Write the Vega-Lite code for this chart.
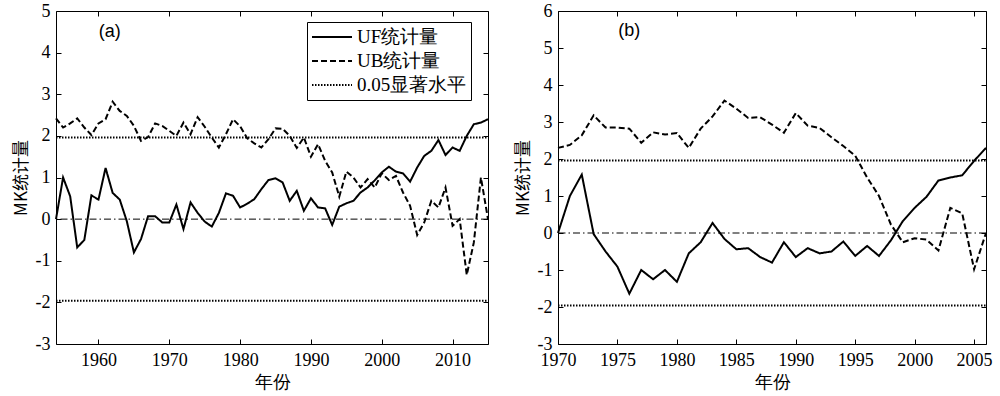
{
  "$schema": "https://vega.github.io/schema/vega-lite/v6.json",
  "padding": {"left": 11, "top": 1, "right": 5, "bottom": 5},
  "background": "white",
  "config": {
    "font": "Liberation Serif",
    "view": {"stroke": "black", "strokeWidth": 1},
    "axis": {"grid": false, "domain": false, "tickColor": "black", "tickSize": -5, "labelFont": "Liberation Serif", "labelFontSize": 18, "labelColor": "black", "labelFlush": false, "titleFont": "Liberation Serif", "titleFontSize": 18, "titleColor": "black", "titleFontWeight": "normal"},
    "legend": {"orient": "none", "title": null, "strokeColor": "black", "fillColor": "white", "padding": 4, "labelFont": "Liberation Serif", "labelFontSize": 19, "labelColor": "black", "symbolSize": 1600, "symbolStrokeColor": "black", "clipHeight": 22, "rowPadding": 2, "labelLimit": 300, "labelOffset": 4}
  },
  "datasets": {
    "a": [
      {"year":1954,"v":0,"s":"UF统计量","g":"UF"},{"year":1955,"v":1.0,"s":"UF统计量","g":"UF"},{"year":1956,"v":0.55,"s":"UF统计量","g":"UF"},{"year":1957,"v":-0.68,"s":"UF统计量","g":"UF"},{"year":1958,"v":-0.5,"s":"UF统计量","g":"UF"},{"year":1959,"v":0.57,"s":"UF统计量","g":"UF"},{"year":1960,"v":0.47,"s":"UF统计量","g":"UF"},{"year":1961,"v":1.23,"s":"UF统计量","g":"UF"},{"year":1962,"v":0.63,"s":"UF统计量","g":"UF"},{"year":1963,"v":0.47,"s":"UF统计量","g":"UF"},{"year":1964,"v":-0.05,"s":"UF统计量","g":"UF"},{"year":1965,"v":-0.8,"s":"UF统计量","g":"UF"},{"year":1966,"v":-0.48,"s":"UF统计量","g":"UF"},{"year":1967,"v":0.07,"s":"UF统计量","g":"UF"},{"year":1968,"v":0.07,"s":"UF统计量","g":"UF"},{"year":1969,"v":-0.08,"s":"UF统计量","g":"UF"},{"year":1970,"v":-0.08,"s":"UF统计量","g":"UF"},{"year":1971,"v":0.35,"s":"UF统计量","g":"UF"},{"year":1972,"v":-0.24,"s":"UF统计量","g":"UF"},{"year":1973,"v":0.4,"s":"UF统计量","g":"UF"},{"year":1974,"v":0.15,"s":"UF统计量","g":"UF"},{"year":1975,"v":-0.06,"s":"UF统计量","g":"UF"},{"year":1976,"v":-0.18,"s":"UF统计量","g":"UF"},{"year":1977,"v":0.15,"s":"UF统计量","g":"UF"},{"year":1978,"v":0.62,"s":"UF统计量","g":"UF"},{"year":1979,"v":0.56,"s":"UF统计量","g":"UF"},{"year":1980,"v":0.28,"s":"UF统计量","g":"UF"},{"year":1981,"v":0.37,"s":"UF统计量","g":"UF"},{"year":1982,"v":0.48,"s":"UF统计量","g":"UF"},{"year":1983,"v":0.72,"s":"UF统计量","g":"UF"},{"year":1984,"v":0.94,"s":"UF统计量","g":"UF"},{"year":1985,"v":0.98,"s":"UF统计量","g":"UF"},{"year":1986,"v":0.88,"s":"UF统计量","g":"UF"},{"year":1987,"v":0.44,"s":"UF统计量","g":"UF"},{"year":1988,"v":0.68,"s":"UF统计量","g":"UF"},{"year":1989,"v":0.2,"s":"UF统计量","g":"UF"},{"year":1990,"v":0.5,"s":"UF统计量","g":"UF"},{"year":1991,"v":0.28,"s":"UF统计量","g":"UF"},{"year":1992,"v":0.26,"s":"UF统计量","g":"UF"},{"year":1993,"v":-0.14,"s":"UF统计量","g":"UF"},{"year":1994,"v":0.3,"s":"UF统计量","g":"UF"},{"year":1995,"v":0.38,"s":"UF统计量","g":"UF"},{"year":1996,"v":0.44,"s":"UF统计量","g":"UF"},{"year":1997,"v":0.64,"s":"UF统计量","g":"UF"},{"year":1998,"v":0.76,"s":"UF统计量","g":"UF"},{"year":1999,"v":0.93,"s":"UF统计量","g":"UF"},{"year":2000,"v":1.12,"s":"UF统计量","g":"UF"},{"year":2001,"v":1.26,"s":"UF统计量","g":"UF"},{"year":2002,"v":1.14,"s":"UF统计量","g":"UF"},{"year":2003,"v":1.1,"s":"UF统计量","g":"UF"},{"year":2004,"v":0.9,"s":"UF统计量","g":"UF"},{"year":2005,"v":1.24,"s":"UF统计量","g":"UF"},{"year":2006,"v":1.52,"s":"UF统计量","g":"UF"},{"year":2007,"v":1.64,"s":"UF统计量","g":"UF"},{"year":2008,"v":1.9,"s":"UF统计量","g":"UF"},{"year":2009,"v":1.54,"s":"UF统计量","g":"UF"},{"year":2010,"v":1.72,"s":"UF统计量","g":"UF"},{"year":2011,"v":1.64,"s":"UF统计量","g":"UF"},{"year":2012,"v":2.0,"s":"UF统计量","g":"UF"},{"year":2013,"v":2.28,"s":"UF统计量","g":"UF"},{"year":2014,"v":2.32,"s":"UF统计量","g":"UF"},{"year":2015,"v":2.4,"s":"UF统计量","g":"UF"},
      {"year":1954,"v":2.42,"s":"UB统计量","g":"UB"},{"year":1955,"v":2.2,"s":"UB统计量","g":"UB"},{"year":1956,"v":2.3,"s":"UB统计量","g":"UB"},{"year":1957,"v":2.42,"s":"UB统计量","g":"UB"},{"year":1958,"v":2.2,"s":"UB统计量","g":"UB"},{"year":1959,"v":2.02,"s":"UB统计量","g":"UB"},{"year":1960,"v":2.3,"s":"UB统计量","g":"UB"},{"year":1961,"v":2.4,"s":"UB统计量","g":"UB"},{"year":1962,"v":2.82,"s":"UB统计量","g":"UB"},{"year":1963,"v":2.6,"s":"UB统计量","g":"UB"},{"year":1964,"v":2.48,"s":"UB统计量","g":"UB"},{"year":1965,"v":2.24,"s":"UB统计量","g":"UB"},{"year":1966,"v":1.88,"s":"UB统计量","g":"UB"},{"year":1967,"v":1.97,"s":"UB统计量","g":"UB"},{"year":1968,"v":2.3,"s":"UB统计量","g":"UB"},{"year":1969,"v":2.24,"s":"UB统计量","g":"UB"},{"year":1970,"v":2.12,"s":"UB统计量","g":"UB"},{"year":1971,"v":2.0,"s":"UB统计量","g":"UB"},{"year":1972,"v":2.32,"s":"UB统计量","g":"UB"},{"year":1973,"v":2.04,"s":"UB统计量","g":"UB"},{"year":1974,"v":2.45,"s":"UB统计量","g":"UB"},{"year":1975,"v":2.22,"s":"UB统计量","g":"UB"},{"year":1976,"v":1.96,"s":"UB统计量","g":"UB"},{"year":1977,"v":1.72,"s":"UB统计量","g":"UB"},{"year":1978,"v":2.04,"s":"UB统计量","g":"UB"},{"year":1979,"v":2.4,"s":"UB统计量","g":"UB"},{"year":1980,"v":2.23,"s":"UB统计量","g":"UB"},{"year":1981,"v":1.94,"s":"UB统计量","g":"UB"},{"year":1982,"v":1.82,"s":"UB统计量","g":"UB"},{"year":1983,"v":1.72,"s":"UB统计量","g":"UB"},{"year":1984,"v":1.92,"s":"UB统计量","g":"UB"},{"year":1985,"v":2.18,"s":"UB统计量","g":"UB"},{"year":1986,"v":2.17,"s":"UB统计量","g":"UB"},{"year":1987,"v":2.0,"s":"UB统计量","g":"UB"},{"year":1988,"v":1.71,"s":"UB统计量","g":"UB"},{"year":1989,"v":1.96,"s":"UB统计量","g":"UB"},{"year":1990,"v":1.5,"s":"UB统计量","g":"UB"},{"year":1991,"v":1.8,"s":"UB统计量","g":"UB"},{"year":1992,"v":1.4,"s":"UB统计量","g":"UB"},{"year":1993,"v":1.12,"s":"UB统计量","g":"UB"},{"year":1994,"v":0.54,"s":"UB统计量","g":"UB"},{"year":1995,"v":1.14,"s":"UB统计量","g":"UB"},{"year":1996,"v":1.0,"s":"UB统计量","g":"UB"},{"year":1997,"v":0.76,"s":"UB统计量","g":"UB"},{"year":1998,"v":0.96,"s":"UB统计量","g":"UB"},{"year":1999,"v":0.76,"s":"UB统计量","g":"UB"},{"year":2000,"v":1.1,"s":"UB统计量","g":"UB"},{"year":2001,"v":0.94,"s":"UB统计量","g":"UB"},{"year":2002,"v":1.04,"s":"UB统计量","g":"UB"},{"year":2003,"v":0.64,"s":"UB统计量","g":"UB"},{"year":2004,"v":0.32,"s":"UB统计量","g":"UB"},{"year":2005,"v":-0.38,"s":"UB统计量","g":"UB"},{"year":2006,"v":-0.08,"s":"UB统计量","g":"UB"},{"year":2007,"v":0.44,"s":"UB统计量","g":"UB"},{"year":2008,"v":0.28,"s":"UB统计量","g":"UB"},{"year":2009,"v":0.76,"s":"UB统计量","g":"UB"},{"year":2010,"v":-0.16,"s":"UB统计量","g":"UB"},{"year":2011,"v":0.0,"s":"UB统计量","g":"UB"},{"year":2012,"v":-1.34,"s":"UB统计量","g":"UB"},{"year":2013,"v":-0.56,"s":"UB统计量","g":"UB"},{"year":2014,"v":1.0,"s":"UB统计量","g":"UB"},{"year":2015,"v":0.0,"s":"UB统计量","g":"UB"},
      {"year":1954,"v":1.96,"s":"0.05显著水平","g":"p"},{"year":2015,"v":1.96,"s":"0.05显著水平","g":"p"},
      {"year":1954,"v":-1.96,"s":"0.05显著水平","g":"n"},{"year":2015,"v":-1.96,"s":"0.05显著水平","g":"n"}
    ],
    "b": [
      {"year":1970,"v":0,"s":"UF统计量","g":"UF"},{"year":1971,"v":1.0,"s":"UF统计量","g":"UF"},{"year":1972,"v":1.58,"s":"UF统计量","g":"UF"},{"year":1973,"v":-0.03,"s":"UF统计量","g":"UF"},{"year":1974,"v":-0.5,"s":"UF统计量","g":"UF"},{"year":1975,"v":-0.91,"s":"UF统计量","g":"UF"},{"year":1976,"v":-1.64,"s":"UF统计量","g":"UF"},{"year":1977,"v":-1.0,"s":"UF统计量","g":"UF"},{"year":1978,"v":-1.25,"s":"UF统计量","g":"UF"},{"year":1979,"v":-1.0,"s":"UF统计量","g":"UF"},{"year":1980,"v":-1.32,"s":"UF统计量","g":"UF"},{"year":1981,"v":-0.55,"s":"UF统计量","g":"UF"},{"year":1982,"v":-0.25,"s":"UF统计量","g":"UF"},{"year":1983,"v":0.27,"s":"UF统计量","g":"UF"},{"year":1984,"v":-0.16,"s":"UF统计量","g":"UF"},{"year":1985,"v":-0.44,"s":"UF统计量","g":"UF"},{"year":1986,"v":-0.41,"s":"UF统计量","g":"UF"},{"year":1987,"v":-0.65,"s":"UF统计量","g":"UF"},{"year":1988,"v":-0.8,"s":"UF统计量","g":"UF"},{"year":1989,"v":-0.25,"s":"UF统计量","g":"UF"},{"year":1990,"v":-0.65,"s":"UF统计量","g":"UF"},{"year":1991,"v":-0.41,"s":"UF统计量","g":"UF"},{"year":1992,"v":-0.55,"s":"UF统计量","g":"UF"},{"year":1993,"v":-0.5,"s":"UF统计量","g":"UF"},{"year":1994,"v":-0.23,"s":"UF统计量","g":"UF"},{"year":1995,"v":-0.62,"s":"UF统计量","g":"UF"},{"year":1996,"v":-0.35,"s":"UF统计量","g":"UF"},{"year":1997,"v":-0.62,"s":"UF统计量","g":"UF"},{"year":1998,"v":-0.2,"s":"UF统计量","g":"UF"},{"year":1999,"v":0.32,"s":"UF统计量","g":"UF"},{"year":2000,"v":0.68,"s":"UF统计量","g":"UF"},{"year":2001,"v":0.98,"s":"UF统计量","g":"UF"},{"year":2002,"v":1.42,"s":"UF统计量","g":"UF"},{"year":2003,"v":1.5,"s":"UF统计量","g":"UF"},{"year":2004,"v":1.56,"s":"UF统计量","g":"UF"},{"year":2005,"v":1.95,"s":"UF统计量","g":"UF"},{"year":2006,"v":2.3,"s":"UF统计量","g":"UF"},
      {"year":1970,"v":2.3,"s":"UB统计量","g":"UB"},{"year":1971,"v":2.38,"s":"UB统计量","g":"UB"},{"year":1972,"v":2.64,"s":"UB统计量","g":"UB"},{"year":1973,"v":3.18,"s":"UB统计量","g":"UB"},{"year":1974,"v":2.85,"s":"UB统计量","g":"UB"},{"year":1975,"v":2.85,"s":"UB统计量","g":"UB"},{"year":1976,"v":2.82,"s":"UB统计量","g":"UB"},{"year":1977,"v":2.44,"s":"UB统计量","g":"UB"},{"year":1978,"v":2.72,"s":"UB统计量","g":"UB"},{"year":1979,"v":2.66,"s":"UB统计量","g":"UB"},{"year":1980,"v":2.7,"s":"UB统计量","g":"UB"},{"year":1981,"v":2.3,"s":"UB统计量","g":"UB"},{"year":1982,"v":2.82,"s":"UB统计量","g":"UB"},{"year":1983,"v":3.15,"s":"UB统计量","g":"UB"},{"year":1984,"v":3.58,"s":"UB统计量","g":"UB"},{"year":1985,"v":3.36,"s":"UB统计量","g":"UB"},{"year":1986,"v":3.11,"s":"UB统计量","g":"UB"},{"year":1987,"v":3.13,"s":"UB统计量","g":"UB"},{"year":1988,"v":2.93,"s":"UB统计量","g":"UB"},{"year":1989,"v":2.71,"s":"UB统计量","g":"UB"},{"year":1990,"v":3.24,"s":"UB统计量","g":"UB"},{"year":1991,"v":2.9,"s":"UB统计量","g":"UB"},{"year":1992,"v":2.84,"s":"UB统计量","g":"UB"},{"year":1993,"v":2.59,"s":"UB统计量","g":"UB"},{"year":1994,"v":2.35,"s":"UB统计量","g":"UB"},{"year":1995,"v":2.09,"s":"UB统计量","g":"UB"},{"year":1996,"v":1.5,"s":"UB统计量","g":"UB"},{"year":1997,"v":1.0,"s":"UB统计量","g":"UB"},{"year":1998,"v":0.23,"s":"UB统计量","g":"UB"},{"year":1999,"v":-0.25,"s":"UB统计量","g":"UB"},{"year":2000,"v":-0.14,"s":"UB统计量","g":"UB"},{"year":2001,"v":-0.18,"s":"UB统计量","g":"UB"},{"year":2002,"v":-0.47,"s":"UB统计量","g":"UB"},{"year":2003,"v":0.68,"s":"UB统计量","g":"UB"},{"year":2004,"v":0.53,"s":"UB统计量","g":"UB"},{"year":2005,"v":-0.98,"s":"UB统计量","g":"UB"},{"year":2006,"v":0,"s":"UB统计量","g":"UB"},
      {"year":1970,"v":1.96,"s":"0.05显著水平","g":"p"},{"year":2006,"v":1.96,"s":"0.05显著水平","g":"p"},
      {"year":1970,"v":-1.96,"s":"0.05显著水平","g":"n"},{"year":2006,"v":-1.96,"s":"0.05显著水平","g":"n"}
    ]
  },
  "spacing": 20,
  "hconcat": [
    {
      "width": 432,
      "height": 333,
      "layer": [
        {
          "data": {"name": "a"},
          "mark": {"type": "line", "color": "black"},
          "encoding": {
            "x": {"field": "year", "type": "quantitative", "title": "年份", "scale": {"domain": [1954, 2015], "nice": false, "zero": false}, "axis": {"orient": "bottom", "values": [1960, 1970, 1980, 1990, 2000, 2010], "format": "d", "labelPadding": 12, "titlePadding": 4}},
            "y": {"field": "v", "type": "quantitative", "title": "MK统计量", "scale": {"domain": [-3, 5], "nice": false, "zero": false}, "axis": {"orient": "left", "values": [-3, -2, -1, 0, 1, 2, 3, 4, 5], "labelExpr": "datum.value + ''", "labelPadding": 11, "titlePadding": 5, "titleFont": "Noto Sans CJK SC", "titleFontSize": 17}},
            "strokeDash": {"field": "s", "type": "nominal", "scale": {"domain": ["UF统计量", "UB统计量", "0.05显著水平"], "range": [[1, 0], [6, 3], [1.5, 1.5]]}, "legend": {"legendX": 251, "legendY": 11}},
            "strokeWidth": {"field": "s", "type": "ordinal", "scale": {"domain": ["UF统计量", "UB统计量", "0.05显著水平"], "range": [2, 2, 1]}, "legend": {"legendX": 251, "legendY": 11}},
            "detail": {"field": "g", "type": "nominal"}
          }
        },
        {
          "data": {"values": [{}]},
          "mark": {"type": "rule", "color": "black", "strokeWidth": 1, "strokeDash": [7, 3, 1.5, 3]},
          "encoding": {"y": {"datum": 0, "type": "quantitative", "axis": null}}
        },
        {
          "data": {"values": [{}]},
          "mark": {"type": "text", "font": "Liberation Sans", "fontSize": 18, "color": "black"},
          "encoding": {"x": {"datum": 1961.6, "type": "quantitative", "axis": null}, "y": {"datum": 4.5, "type": "quantitative", "axis": null}, "text": {"value": "(a)"}}
        },
        {
          "data": {"values": [{}]},
          "mark": {"type": "point", "opacity": 0},
          "encoding": {
            "x": {"datum": 1960, "type": "quantitative", "axis": {"orient": "top", "labels": false, "title": null, "values": [1960, 1970, 1980, 1990, 2000, 2010]}},
            "y": {"datum": 0, "type": "quantitative", "axis": {"orient": "right", "labels": false, "title": null, "values": [-3, -2, -1, 0, 1, 2, 3, 4, 5]}}
          }
        }
      ],
      "resolve": {"axis": {"x": "independent", "y": "independent"}}
    },
    {
      "width": 428,
      "height": 333,
      "layer": [
        {
          "data": {"name": "b"},
          "mark": {"type": "line", "color": "black"},
          "encoding": {
            "x": {"field": "year", "type": "quantitative", "title": "年份", "scale": {"domain": [1970, 2006], "nice": false, "zero": false}, "axis": {"orient": "bottom", "values": [1970, 1975, 1980, 1985, 1990, 1995, 2000, 2005], "format": "d", "labelPadding": 12, "titlePadding": 4}},
            "y": {"field": "v", "type": "quantitative", "title": "MK统计量", "scale": {"domain": [-3, 6], "nice": false, "zero": false}, "axis": {"orient": "left", "values": [-3, -2, -1, 0, 1, 2, 3, 4, 5, 6], "labelExpr": "datum.value + ''", "labelPadding": 11, "titlePadding": 5, "titleFont": "Noto Sans CJK SC", "titleFontSize": 17}},
            "strokeDash": {"field": "s", "type": "nominal", "scale": {"domain": ["UF统计量", "UB统计量", "0.05显著水平"], "range": [[1, 0], [6, 3], [1.5, 1.5]]}, "legend": {"legendX": 249, "legendY": 9}},
            "strokeWidth": {"field": "s", "type": "ordinal", "scale": {"domain": ["UF统计量", "UB统计量", "0.05显著水平"], "range": [2, 2, 1]}, "legend": {"legendX": 249, "legendY": 9}},
            "detail": {"field": "g", "type": "nominal"}
          }
        },
        {
          "data": {"values": [{}]},
          "mark": {"type": "rule", "color": "black", "strokeWidth": 1, "strokeDash": [7, 3, 1.5, 3]},
          "encoding": {"y": {"datum": 0, "type": "quantitative", "axis": null}}
        },
        {
          "data": {"values": [{}]},
          "mark": {"type": "text", "font": "Liberation Sans", "fontSize": 18, "color": "black"},
          "encoding": {"x": {"datum": 1976, "type": "quantitative", "axis": null}, "y": {"datum": 5.45, "type": "quantitative", "axis": null}, "text": {"value": "(b)"}}
        },
        {
          "data": {"values": [{}]},
          "mark": {"type": "point", "opacity": 0},
          "encoding": {
            "x": {"datum": 1980, "type": "quantitative", "axis": {"orient": "top", "labels": false, "title": null, "values": [1970, 1975, 1980, 1985, 1990, 1995, 2000, 2005]}},
            "y": {"datum": 0, "type": "quantitative", "axis": {"orient": "right", "labels": false, "title": null, "values": [-3, -2, -1, 0, 1, 2, 3, 4, 5, 6]}}
          }
        }
      ],
      "resolve": {"axis": {"x": "independent", "y": "independent"}}
    }
  ]
}
